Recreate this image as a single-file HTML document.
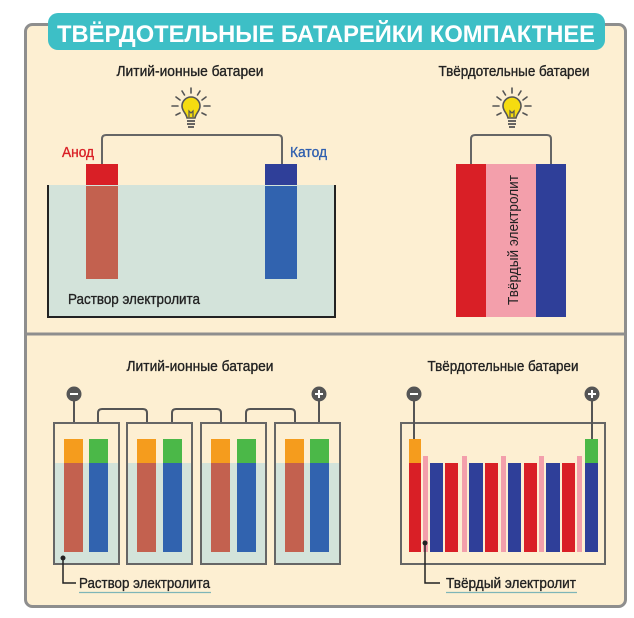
<!DOCTYPE html>
<html><head><meta charset="utf-8"><style>
html,body{margin:0;padding:0;background:#fff;}
svg{display:block;}
text{font-family:"Liberation Sans",sans-serif;}
.l{stroke:currentColor;stroke-width:0.35;}
</style></head><body>
<svg width="634" height="618" viewBox="0 0 634 618" xmlns="http://www.w3.org/2000/svg">
<defs>
<g id="bulb">
 <g stroke="#555" stroke-width="1.6" stroke-linecap="round">
  <line x1="0" y1="-20" x2="0" y2="-15"/>
  <line x1="-9" y1="-17" x2="-6.5" y2="-13"/>
  <line x1="9" y1="-17" x2="6.5" y2="-13"/>
  <line x1="-15" y1="-11" x2="-11" y2="-8"/>
  <line x1="15" y1="-11" x2="11" y2="-8"/>
  <line x1="-19" y1="-2" x2="-13" y2="-2"/>
  <line x1="19" y1="-2" x2="13" y2="-2"/>
  <line x1="-15" y1="7" x2="-11" y2="5"/>
  <line x1="15" y1="7" x2="11" y2="5"/>
 </g>
 <path d="M-9,-2 A9,9 0 1 1 9,-2 C9,3 5,5 4,10 L-4,10 C-5,5 -9,3 -9,-2Z" fill="#f5dc10" stroke="#555" stroke-width="1.6"/>
 <path d="M-2,9 L-2,3 L0,5 L2,3 L2,9" fill="none" stroke="#555" stroke-width="1.2"/>
 <g stroke="#555" stroke-width="1.8"><line x1="-4" y1="13" x2="4" y2="13"/><line x1="-4" y1="16" x2="4" y2="16"/><line x1="-3" y1="19" x2="3" y2="19"/></g>
</g>
</defs>
<rect x="25.5" y="24.5" width="600" height="582" rx="7" fill="#fdefd2" stroke="#8e8e8e" stroke-width="3"/>
<line x1="25" y1="334" x2="626" y2="334" stroke="#8e8e8e" stroke-width="3"/>
<rect x="48" y="13" width="557" height="37" rx="10" fill="#3dbfc6"/>
<text x="57" y="42" font-size="24" font-weight="bold" fill="#fff" textLength="538" lengthAdjust="spacingAndGlyphs">ТВЁРДОТЕЛЬНЫЕ БАТАРЕЙКИ КОМПАКТНЕЕ</text>

<text class="l" x="190" y="76" font-size="15" text-anchor="middle" fill="#222" color="#222" textLength="147" lengthAdjust="spacingAndGlyphs">Литий-ионные батареи</text>
<use href="#bulb" x="191" y="108"/>
<path d="M102,164 V139 Q102,135 106,135 H278 Q282,135 282,139 V164" fill="none" stroke="#666" stroke-width="2"/>
<text class="l" x="62" y="157" font-size="15" fill="#d91f26" color="#d91f26" textLength="32" lengthAdjust="spacingAndGlyphs">Анод</text>
<text class="l" x="290" y="157" font-size="15" fill="#2f5faf" color="#2f5faf" textLength="37" lengthAdjust="spacingAndGlyphs">Катод</text>
<rect x="86" y="164" width="32" height="24" fill="#d91f26"/>
<rect x="265" y="164" width="32" height="24" fill="#2f3f99"/>
<path d="M48,185 V317 H335 V185" fill="#d3e3da" stroke="#222" stroke-width="2"/>
<rect x="86" y="186" width="32" height="93" fill="#c3614f"/>
<rect x="265" y="186" width="32" height="93" fill="#3163af"/>
<text class="l" x="68" y="304" font-size="15" fill="#222" color="#222" textLength="132" lengthAdjust="spacingAndGlyphs">Раствор электролита</text>

<text class="l" x="514" y="76" font-size="15" text-anchor="middle" fill="#222" color="#222" textLength="151" lengthAdjust="spacingAndGlyphs">Твёрдотельные батареи</text>
<use href="#bulb" x="512" y="108"/>
<path d="M471,164 V139 Q471,135 475,135 H547 Q551,135 551,139 V164" fill="none" stroke="#666" stroke-width="2"/>
<rect x="456" y="164" width="30" height="153" fill="#d91f26"/>
<rect x="486" y="164" width="50" height="153" fill="#f39fab"/>
<rect x="536" y="164" width="30" height="153" fill="#2f3f99"/>
<text transform="translate(518,305) rotate(-90)" font-size="15" fill="#222" textLength="130" lengthAdjust="spacingAndGlyphs">Твёрдый электролит</text>

<text class="l" x="200" y="371" font-size="15" text-anchor="middle" fill="#222" color="#222" textLength="147" lengthAdjust="spacingAndGlyphs">Литий-ионные батареи</text>
<g stroke="#555" stroke-width="2" fill="none">
 <line x1="74" y1="394" x2="74" y2="440"/>
 <path d="M98,440 V413 Q98,409 102,409 H143 Q147,409 147,413 V440"/>
 <path d="M172,440 V413 Q172,409 176,409 H217 Q221,409 221,413 V440"/>
 <path d="M246,440 V413 Q246,409 250,409 H291 Q295,409 295,413 V440"/>
 <line x1="319" y1="394" x2="319" y2="440"/>
</g>
<g>
 <rect x="54" y="423" width="65" height="141" fill="#d3e3da" stroke="#666" stroke-width="2"/>
 <rect x="127" y="423" width="65" height="141" fill="#d3e3da" stroke="#666" stroke-width="2"/>
 <rect x="201" y="423" width="65" height="141" fill="#d3e3da" stroke="#666" stroke-width="2"/>
 <rect x="275" y="423" width="65" height="141" fill="#d3e3da" stroke="#666" stroke-width="2"/>
 <rect x="55" y="424" width="63" height="39" fill="#fdefd2"/>
 <rect x="128" y="424" width="63" height="39" fill="#fdefd2"/>
 <rect x="202" y="424" width="63" height="39" fill="#fdefd2"/>
 <rect x="276" y="424" width="63" height="39" fill="#fdefd2"/>
</g>
<g>
 <rect x="64" y="439" width="19" height="24" fill="#f59c1d"/><rect x="89" y="439" width="19" height="24" fill="#4bb848"/>
 <rect x="64" y="463" width="19" height="89" fill="#c3614f"/><rect x="89" y="463" width="19" height="89" fill="#3163af"/>
 <rect x="137" y="439" width="19" height="24" fill="#f59c1d"/><rect x="163" y="439" width="19" height="24" fill="#4bb848"/>
 <rect x="137" y="463" width="19" height="89" fill="#c3614f"/><rect x="163" y="463" width="19" height="89" fill="#3163af"/>
 <rect x="211" y="439" width="19" height="24" fill="#f59c1d"/><rect x="237" y="439" width="19" height="24" fill="#4bb848"/>
 <rect x="211" y="463" width="19" height="89" fill="#c3614f"/><rect x="237" y="463" width="19" height="89" fill="#3163af"/>
 <rect x="285" y="439" width="19" height="24" fill="#f59c1d"/><rect x="310" y="439" width="19" height="24" fill="#4bb848"/>
 <rect x="285" y="463" width="19" height="89" fill="#c3614f"/><rect x="310" y="463" width="19" height="89" fill="#3163af"/>
</g>
<circle cx="74" cy="394" r="7.5" fill="#555"/><rect x="70" y="393" width="8" height="2" fill="#fff"/>
<circle cx="319" cy="394" r="7.5" fill="#555"/><rect x="315" y="393" width="8" height="2" fill="#fff"/><rect x="318" y="390" width="2" height="8" fill="#fff"/>
<circle cx="63" cy="558" r="2.5" fill="#222"/>
<path d="M63,558 V583 H76" fill="none" stroke="#222" stroke-width="1.5"/>
<text class="l" x="79" y="588" font-size="15" fill="#222" color="#222" textLength="131" lengthAdjust="spacingAndGlyphs">Раствор электролита</text>
<line x1="79" y1="592.5" x2="211" y2="592.5" stroke="#7fb5b8" stroke-width="1.2"/>

<text class="l" x="503" y="371" font-size="15" text-anchor="middle" fill="#222" color="#222" textLength="151" lengthAdjust="spacingAndGlyphs">Твёрдотельные батареи</text>
<rect x="401" y="423" width="204" height="141" fill="none" stroke="#666" stroke-width="2"/>
<g stroke="#555" stroke-width="2"><line x1="414" y1="394" x2="414" y2="440"/><line x1="592" y1="394" x2="592" y2="440"/></g>
<rect x="409" y="439" width="12" height="24" fill="#f59c1d"/>
<rect x="585" y="439" width="13" height="24" fill="#4bb848"/>
<g fill="#d91f26">
 <rect x="409" y="463" width="12" height="89"/><rect x="445" y="463" width="13" height="89"/><rect x="485" y="463" width="13" height="89"/><rect x="524" y="463" width="13" height="89"/><rect x="562" y="463" width="13" height="89"/>
</g>
<g fill="#2f3f99">
 <rect x="430" y="463" width="13" height="89"/><rect x="469" y="463" width="14" height="89"/><rect x="508" y="463" width="13" height="89"/><rect x="546" y="463" width="14" height="89"/><rect x="585" y="463" width="13" height="89"/>
</g>
<g fill="#f39fab">
 <rect x="423" y="456" width="5" height="96"/><rect x="462" y="456" width="5" height="96"/><rect x="501" y="456" width="5" height="96"/><rect x="539" y="456" width="5" height="96"/><rect x="577" y="456" width="5" height="96"/>
</g>
<circle cx="414" cy="394" r="7.5" fill="#555"/><rect x="410" y="393" width="8" height="2" fill="#fff"/>
<circle cx="592" cy="394" r="7.5" fill="#555"/><rect x="588" y="393" width="8" height="2" fill="#fff"/><rect x="591" y="390" width="2" height="8" fill="#fff"/>
<circle cx="425" cy="543" r="2.5" fill="#222"/>
<path d="M425,543 V583 H440" fill="none" stroke="#222" stroke-width="1.5"/>
<text class="l" x="446" y="588" font-size="15" fill="#222" color="#222" textLength="130" lengthAdjust="spacingAndGlyphs">Твёрдый электролит</text>
<line x1="446" y1="592.5" x2="577" y2="592.5" stroke="#7fb5b8" stroke-width="1.2"/>
</svg>
</body></html>
